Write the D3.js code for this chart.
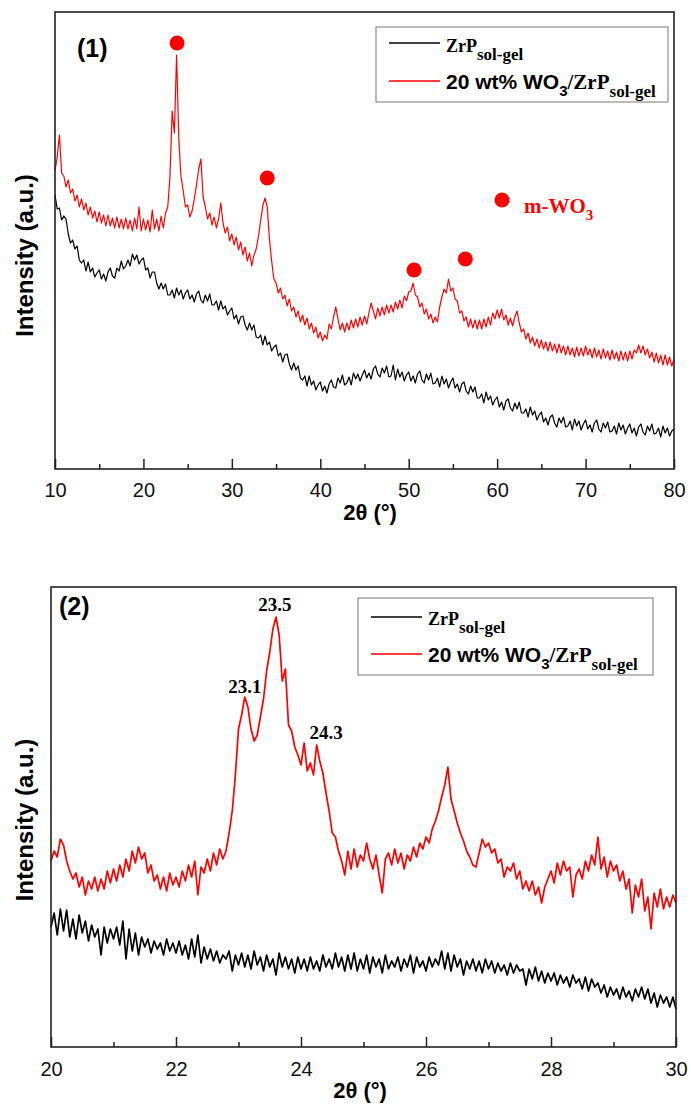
<!DOCTYPE html>
<html>
<head>
<meta charset="utf-8">
<script src="https://cdn.jsdelivr.net/npm/d3@7"></script>
<style>
  body { margin: 0; background: #fff; }
  svg { display: block; }
</style>
</head>
<body>
<svg id="chart"></svg>
<script>
// ---- data: panel (1), 10-80 deg, step 0.25 deg ----
const p1Start = 10, p1Step = 0.25;
const p1Zrp = [
  274,260,261,249, 253,250,235,226, 229,220,223,209, 206,209,198,207, 197,201,192,196,
  199,190,195,188, 197,201,193,191, 201,198,208,200, 203,209,203,215, 209,214,205,209,
  211,199,201,191, 197,197,186,180, 186,180,185,174, 174,179,171,181, 174,179,170,176,
  179,170,174,167, 175,178,169,166, 174,168,175,164, 164,168,159,168, 160,163,154,158,
  161,150,154,145, 152,153,144,139, 146,139,144,132, 131,134,124,133, 124,127,118,122,
  124,113,116,107, 114,115,105,99, 106,99,103,91, 89,93,83,93, 84,88,79,84,
  87,78,83,76, 85,89,82,81, 91,86,94,84, 86,92,84,96, 90,95,88,94,
  99,91,96,90, 100,103,95,92, 101,96,103,92, 93,104,89,100, 92,97,88,94,
  97,88,93,86, 95,98,89,86, 95,89,96,85, 86,91,82,93, 85,90,81,87,
  91,81,85,77, 85,87,78,75, 83,77,82,71, 71,75,66,77, 69,73,64,69,
  72,62,67,59, 68,70,61,58, 66,60,67,56, 56,60,52,62, 54,58,49,54,
  57,47,51,44, 52,54,46,42, 51,46,52,42, 43,48,39,50, 43,48,39,45,
  49,40,44,37, 46,49,40,37, 46,41,47,37, 38,43,35,46, 39,44,35,41,
  45,36,41,33, 42,45,37,34, 43,38,45,35, 36,41,32,43, 36,41,33,38,
  40
];
const p1Wo3 = [
  298,312,334,296, 293,282,289,276, 280,268,274,262, 270,259,266,254, 262,251,258,247,
  257,246,254,243, 254,243,251,241, 252,241,250,240, 251,240,249,238, 251,240,262,238,
  250,239,249,237, 259,240,250,238, 253,241,256,262, 292,358,336,414, 330,292,278,262,
  264,252,258,270, 284,300,310,272, 262,250,256,244, 252,241,250,266, 246,236,242,228,
  235,224,232,219, 227,214,222,208, 216,203,214,220, 232,248,263,271, 262,230,208,190,
  186,176,181,170, 174,163,170,158, 162,152,158,147, 154,144,151,140, 146,136,142,131,
  137,128,134,130, 145,140,152,162, 150,139,146,137, 146,139,149,141, 150,142,152,144,
  153,145,156,166, 158,150,161,153, 162,154,164,156, 164,157,167,160, 169,161,173,168,
  177,178,186,174, 172,162,166,155, 160,150,155,146, 152,147,162,172, 180,176,190,178,
  181,170,168,156, 158,148,152,142, 150,141,149,140, 149,140,150,142, 152,144,156,150,
  159,151,160,149, 154,144,151,143, 152,158,146,137, 140,130,136,126, 132,123,130,121,
  129,120,127,118, 127,118,125,116, 125,116,123,114, 123,114,121,112, 122,113,121,113,
  123,114,120,111, 121,112,119,110, 120,111,118,109, 119,110,117,108, 118,109,117,108,
  118,110,119,116, 124,116,123,114, 120,111,117,107, 116,106,114,104, 114,104,112,103,
  110
];
const p1Ticks = [10, 20, 30, 40, 50, 60, 70, 80];
const p1Minor = [15, 25, 35, 45, 55, 65, 75];
// m-WO3 reflections marked with red dots [2theta, intensity]
const p1Markers = [[23.8, 426], [34.0, 291], [50.6, 199], [56.4, 210]];

// ---- data: panel (2), 20-30 deg, step 0.05 deg ----
const p2Start = 20, p2Step = 0.05;
const p2Zrp = [
  120,134,112,138,116,137,110,128,108,132,114,126,106,122,110,118,92,120,104,118,
  108,120,102,126,88,118,96,114,92,110,100,108,94,106,98,104,92,108,96,104,
  94,106,92,102,88,108,90,112,84,100,88,98,86,96,84,92,88,96,76,92,
  82,94,80,92,78,96,82,90,76,92,80,88,72,94,80,90,78,88,74,90,
  78,88,76,90,78,86,76,92,80,88,78,94,80,90,76,92,78,94,76,88,
  78,92,74,90,80,88,74,92,78,86,80,90,76,88,80,92,74,90,80,86,
  76,90,80,88,82,96,78,94,76,92,80,88,72,86,78,88,76,86,74,88,
  78,86,74,84,76,82,72,84,74,82,76,78,62,78,68,80,66,76,64,74,
  66,74,62,72,64,70,60,72,64,68,58,70,56,68,60,64,54,62,50,60,
  52,58,48,60,50,56,46,58,50,60,48,58,44,54,40,52,44,50,40,50,
  38
];
const p2Wo3 = [
  186,196,190,208,202,186,176,168,174,160,170,152,166,158,170,156,168,158,176,164,
  178,166,182,170,188,176,196,184,200,188,194,174,182,166,172,158,170,156,174,162,
  170,160,176,166,182,170,186,152,180,174,188,176,194,182,198,188,196,214,236,272,
  318,332,350,340,318,306,312,330,348,376,395,418,430,412,366,378,322,316,300,292,
  282,304,276,284,272,302,286,274,254,236,214,210,196,186,172,196,178,198,180,192,
  186,204,188,178,192,172,154,188,194,182,198,184,194,178,192,186,200,190,204,198,
  210,204,218,226,236,250,262,280,248,236,224,214,206,196,190,182,180,194,208,200,
  204,194,198,184,188,170,180,176,184,168,176,158,166,156,166,152,160,144,160,168,
  176,164,184,172,186,176,180,150,172,178,168,186,176,192,182,210,178,190,170,186,
  176,182,166,176,158,168,134,162,150,168,136,150,118,154,140,158,138,150,140,152,
  144
];
const p2Ticks = [20, 22, 24, 26, 28, 30];
const p2Minor = [21, 23, 25, 27, 29];
const p2PeakLabels = [
  { x: 23.1, y: 354, text: '23.1' },
  { x: 23.58, y: 436, text: '23.5' },
  { x: 24.4, y: 308, text: '24.3' }
];

const W = 691, H = 1110;
const SANS = '"Liberation Sans", Arial, sans-serif';
const SERIF = '"Liberation Serif", "Times New Roman", serif';
const RED = '#ff0000';

const svg = d3.select('#chart').attr('width', W).attr('height', H);

function drawPanel(o) {
  const x = d3.scaleLinear().domain(o.xDomain).range([o.left, o.right]);
  const y = d3.scaleLinear().domain(o.yDomain).range([o.bottom, o.top]);
  const g = svg.append('g');

  const line = d3.line()
    .x((d, i) => x(o.start + i * o.step))
    .y(d => y(d));

  g.append('path').datum(o.zrp)
    .attr('d', line).attr('fill', 'none')
    .attr('stroke', '#000').attr('stroke-width', o.lw)
    .attr('stroke-linejoin', 'round');
  g.append('path').datum(o.wo3)
    .attr('d', line).attr('fill', 'none')
    .attr('stroke', RED).attr('stroke-width', o.lw)
    .attr('stroke-linejoin', 'round');

  // ticks point inward
  const major = g.append('g')
    .attr('transform', `translate(0,${o.bottom})`)
    .call(d3.axisBottom(x).tickValues(o.ticks).tickSizeInner(-10).tickSizeOuter(0)
      .tickPadding(o.tickPad).tickFormat(d3.format('d')));
  major.select('.domain').remove();
  major.selectAll('line').attr('stroke', '#222').attr('stroke-width', 1.5);
  major.selectAll('text').attr('font-family', SANS).attr('font-size', 20).attr('fill', '#111');

  const minor = g.append('g')
    .attr('transform', `translate(0,${o.bottom})`)
    .call(d3.axisBottom(x).tickValues(o.minor).tickSizeInner(-5).tickSizeOuter(0).tickFormat(''));
  minor.select('.domain').remove();
  minor.selectAll('line').attr('stroke', '#222').attr('stroke-width', 1.5);

  // frame
  g.append('rect')
    .attr('x', o.left).attr('y', o.top)
    .attr('width', o.right - o.left).attr('height', o.bottom - o.top)
    .attr('fill', 'none').attr('stroke', '#222').attr('stroke-width', 1.6);

  // axis titles
  g.append('text')
    .attr('x', o.xTitleX).attr('y', o.xTitleY)
    .attr('text-anchor', 'middle')
    .attr('font-family', SANS).attr('font-weight', 'bold').attr('font-size', 22)
    .text('2θ (°)');
  g.append('text')
    .attr('transform', `translate(33,${(o.top + o.bottom) / 2 + o.yTitleShift}) rotate(-90)`)
    .attr('text-anchor', 'middle')
    .attr('font-family', SANS).attr('font-weight', 'bold').attr('font-size', 24)
    .text('Intensity (a.u.)');

  // panel tag
  g.append('text')
    .attr('x', o.tagX).attr('y', o.tagY)
    .attr('font-family', SANS).attr('font-weight', 'bold').attr('font-size', 25)
    .text(o.tag);

  // legend
  const lg = g.append('g').attr('transform', `translate(${o.legend.x},${o.legend.y})`);
  lg.append('rect')
    .attr('width', o.legend.w).attr('height', o.legend.h)
    .attr('fill', '#fff').attr('stroke', '#777').attr('stroke-width', 1);
  const rows = [
    { color: '#000', ly: o.legend.l1, ty: o.legend.t1 },
    { color: RED, ly: o.legend.l2, ty: o.legend.t2 }
  ];
  rows.forEach(r => {
    lg.append('line')
      .attr('x1', 13).attr('x2', 64).attr('y1', r.ly).attr('y2', r.ly)
      .attr('stroke', r.color).attr('stroke-width', 1.5);
  });
  const t1 = lg.append('text').attr('x', 70).attr('y', rows[0].ty)
    .attr('font-family', SERIF).attr('font-weight', 'bold').attr('font-size', 18);
  t1.append('tspan').text('ZrP');
  t1.append('tspan').attr('dy', 8).attr('font-size', 17).text('sol-gel');

  const t2 = lg.append('text').attr('x', 70).attr('y', rows[1].ty)
    .attr('font-weight', 'bold');
  t2.append('tspan').attr('font-family', SANS).attr('font-size', 21).text('20 wt% WO');
  t2.append('tspan').attr('font-family', SANS).attr('font-size', 15).attr('dy', 7).text('3');
  t2.append('tspan').attr('font-family', SERIF).attr('font-size', 21).attr('dy', -7).text('/ZrP');
  t2.append('tspan').attr('font-family', SERIF).attr('font-size', 17).attr('dy', 8).text('sol-gel');

  return { x, y, g };
}

// ---- panel (1) ----
const P1 = drawPanel({
  xDomain: [10, 80], yDomain: [0, 457],
  left: 55, right: 674, top: 12, bottom: 469,
  start: p1Start, step: p1Step, zrp: p1Zrp, wo3: p1Wo3, lw: 1.2,
  ticks: p1Ticks, minor: p1Minor, tickPad: 14,
  xTitleX: 370, xTitleY: 520, yTitleShift: 15,
  tag: '(1)', tagX: 77, tagY: 57,
  legend: { x: 376, y: 27, w: 292, h: 75, l1: 16, t1: 25, l2: 54, t2: 62 }
});

P1.g.selectAll('.marker')
  .data(p1Markers)
  .join('circle')
  .attr('class', 'marker')
  .attr('cx', d => P1.x(d[0])).attr('cy', d => P1.y(d[1]))
  .attr('r', 7.5).attr('fill', RED);

// m-WO3 key
P1.g.append('circle').attr('cx', 502).attr('cy', 200).attr('r', 7.5).attr('fill', RED);
const mw = P1.g.append('text').attr('x', 524).attr('y', 213)
  .attr('font-family', SERIF).attr('font-weight', 'bold').attr('fill', RED).attr('font-size', 21);
mw.append('tspan').text('m-WO');
mw.append('tspan').attr('font-size', 15).attr('dy', 7).text('3');

// ---- panel (2) ----
const P2 = drawPanel({
  xDomain: [20, 30], yDomain: [0, 460],
  left: 51, right: 676, top: 587, bottom: 1047,
  start: p2Start, step: p2Step, zrp: p2Zrp, wo3: p2Wo3, lw: 1.7,
  ticks: p2Ticks, minor: p2Minor, tickPad: 15,
  xTitleX: 360, xTitleY: 1098, yTitleShift: 3,
  tag: '(2)', tagX: 59, tagY: 615,
  legend: { x: 358, y: 598, w: 295, h: 77, l1: 19, t1: 27, l2: 56, t2: 64 }
});

P2.g.selectAll('.peak-label')
  .data(p2PeakLabels)
  .join('text')
  .attr('class', 'peak-label')
  .attr('x', d => P2.x(d.x)).attr('y', d => P2.y(d.y))
  .attr('text-anchor', 'middle')
  .attr('font-family', SERIF).attr('font-weight', 'bold').attr('font-size', 19)
  .text(d => d.text);
</script>
</body>
</html>
